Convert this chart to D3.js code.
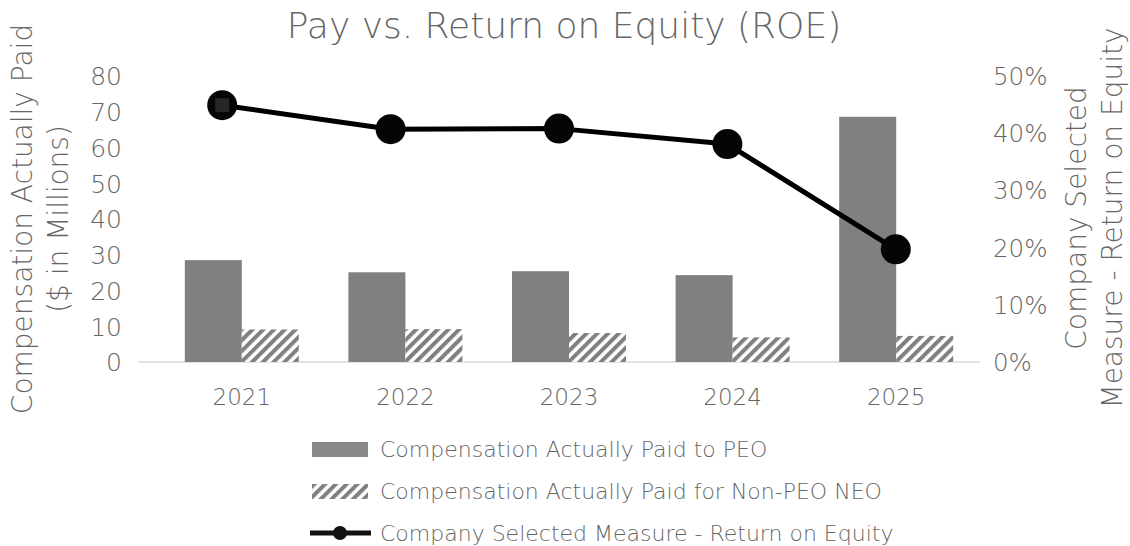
<!DOCTYPE html>
<html>
<head>
<meta charset="utf-8">
<script src="https://cdn.jsdelivr.net/npm/d3@7"></script>
<style>
  html, body { margin: 0; padding: 0; background: #fff; }
  svg text { font-family: "DejaVu Sans", sans-serif; font-weight: 200; fill: #666; }
</style>
</head>
<body>
<svg id="chart" width="1130" height="546"></svg>
<script>
// Fiscal years and series
const years = ["2021", "2022", "2023", "2024", "2025"];
const capPEO = [28.5, 25.1, 25.4, 24.3, 68.6];      // $ millions
const capNonPEO = [9.1, 9.2, 8.1, 6.9, 7.3];        // $ millions
const roe = [0.449, 0.407, 0.408, 0.381, 0.197];    // return on equity
const leftTicks = [0, 10, 20, 30, 40, 50, 60, 70, 80];
const rightTicks = [0, 0.1, 0.2, 0.3, 0.4, 0.5];
const legendLabels = [
  "Compensation Actually Paid to PEO",
  "Compensation Actually Paid for Non-PEO NEO",
  "Company Selected Measure - Return on Equity"
];

const svg = d3.select("#chart");

// Layout
const plotLeft = 138, plotRight = 980, plotTop = 76, plotBottom = 362;

// Bars sit on their own band scale, the ROE line on a band scale across the full plot
const xBars = d3.scaleBand().domain(years).range([160, 978]);
const xGroup = d3.scaleBand().domain(["peo", "non"]).range([0, xBars.bandwidth()]).paddingOuter(0.435).paddingInner(0);
const xLine = d3.scaleBand().domain(years).range([plotLeft, plotRight]);
const lineX = y => xLine(y) + xLine.bandwidth() / 2;

const yLeft = d3.scaleLinear().domain([0, 80]).range([plotBottom, plotTop]);
const yRight = d3.scaleLinear().domain([0, 0.5]).range([plotBottom, plotTop]);

// Hatch pattern for Non-PEO bars
const defs = svg.append("defs");
const pat = defs.append("pattern")
  .attr("id", "hatch")
  .attr("patternUnits", "userSpaceOnUse")
  .attr("width", 7.6).attr("height", 7.6)
  .attr("patternTransform", "rotate(45)");
pat.append("rect").attr("width", 7.6).attr("height", 7.6).attr("fill", "#fff");
pat.append("rect").attr("width", 4).attr("height", 7.6).attr("fill", "#808080");

// Title
svg.append("text")
  .attr("x", 564).attr("y", 38)
  .attr("text-anchor", "middle")
  .style("font-size", "36px")
  .text("Pay vs. Return on Equity (ROE)");

// Left axis
const leftAxis = svg.append("g")
  .attr("transform", `translate(122,0)`)
  .call(d3.axisLeft(yLeft).tickValues(leftTicks).tickSize(0).tickPadding(0).tickFormat(d3.format("d")));
leftAxis.select(".domain").remove();
leftAxis.selectAll("text").style("font-size", "25px").attr("dy", "0.35em");

// Right axis
const rightAxis = svg.append("g")
  .attr("transform", `translate(993,0)`)
  .call(d3.axisRight(yRight).tickValues(rightTicks).tickSize(0).tickPadding(0).tickFormat(d3.format(".0%")));
rightAxis.select(".domain").remove();
rightAxis.selectAll("text").style("font-size", "24.5px").attr("dy", "0.35em");

// Axis titles
const leftTitle = svg.append("text")
  .attr("transform", "translate(32,219) rotate(-90)")
  .attr("text-anchor", "middle")
  .style("font-size", "28px");
leftTitle.append("tspan").attr("x", 0).attr("dy", 0).text("Compensation Actually Paid");
leftTitle.append("tspan").attr("x", 0).attr("dy", 36).text("($ in Millions)");

const rightTitle = svg.append("text")
  .attr("transform", "translate(1086,218) rotate(-90)")
  .attr("text-anchor", "middle")
  .style("font-size", "28px");
rightTitle.append("tspan").attr("x", 0).attr("dy", 0).text("Company Selected");
rightTitle.append("tspan").attr("x", 0).attr("dy", 36).text("Measure - Return on Equity");

// Baseline
svg.append("line")
  .attr("x1", plotLeft).attr("x2", plotRight)
  .attr("y1", plotBottom).attr("y2", plotBottom)
  .attr("stroke", "#d9d9d9").attr("stroke-width", 1.5);

// Category labels
const xAxis = svg.append("g")
  .attr("transform", `translate(0,${plotBottom})`)
  .call(d3.axisBottom(xBars).tickSize(0).tickPadding(0));
xAxis.select(".domain").remove();
xAxis.selectAll("text").style("font-size", "23px").attr("dy", null).attr("y", 43);

// Bars
const groups = svg.append("g").selectAll("g")
  .data(years).join("g")
  .attr("transform", d => `translate(${xBars(d)},0)`);

groups.append("rect")
  .attr("x", xGroup("peo"))
  .attr("width", xGroup.bandwidth())
  .attr("y", (d, i) => yLeft(capPEO[i]))
  .attr("height", (d, i) => plotBottom - yLeft(capPEO[i]))
  .attr("fill", "#808080");

groups.append("rect")
  .attr("x", xGroup("non"))
  .attr("width", xGroup.bandwidth())
  .attr("y", (d, i) => yLeft(capNonPEO[i]))
  .attr("height", (d, i) => plotBottom - yLeft(capNonPEO[i]))
  .attr("fill", "url(#hatch)");

// ROE line
const lineGen = d3.line()
  .x((d, i) => lineX(years[i]))
  .y(d => yRight(d));

svg.append("path")
  .datum(roe)
  .attr("d", lineGen)
  .attr("fill", "none")
  .attr("stroke", "#000")
  .attr("stroke-width", 5)
  .attr("stroke-linejoin", "round");

svg.append("g").selectAll("circle")
  .data(roe).join("circle")
  .attr("cx", (d, i) => lineX(years[i]))
  .attr("cy", d => yRight(d))
  .attr("r", 15)
  .attr("fill", "#050505");

// Square accent on the first marker
svg.append("rect")
  .attr("x", lineX(years[0]) - 7)
  .attr("y", yRight(roe[0]) - 7)
  .attr("width", 14).attr("height", 14)
  .attr("fill", "#2a2627");

// Legend
const legend = svg.append("g").attr("transform", "translate(312,0)");
const rows = [449.5, 491.5, 533];

legend.append("rect").attr("x", 0).attr("y", rows[0] - 7.5).attr("width", 56).attr("height", 15).attr("fill", "#8a8a8a");
legend.append("rect").attr("x", 0).attr("y", rows[1] - 7.5).attr("width", 56).attr("height", 15).attr("fill", "url(#hatch)");
legend.append("line").attr("x1", -2).attr("x2", 59).attr("y1", rows[2]).attr("y2", rows[2])
  .attr("stroke", "#111").attr("stroke-width", 5);
legend.append("circle").attr("cx", 28).attr("cy", rows[2]).attr("r", 7).attr("fill", "#111");

legend.selectAll("text.lg")
  .data(legendLabels).join("text")
  .attr("class", "lg")
  .attr("x", 68)
  .attr("y", (d, i) => rows[i])
  .attr("dy", "0.36em")
  .style("font-size", "22px")
  .text(d => d);
</script>
</body>
</html>
